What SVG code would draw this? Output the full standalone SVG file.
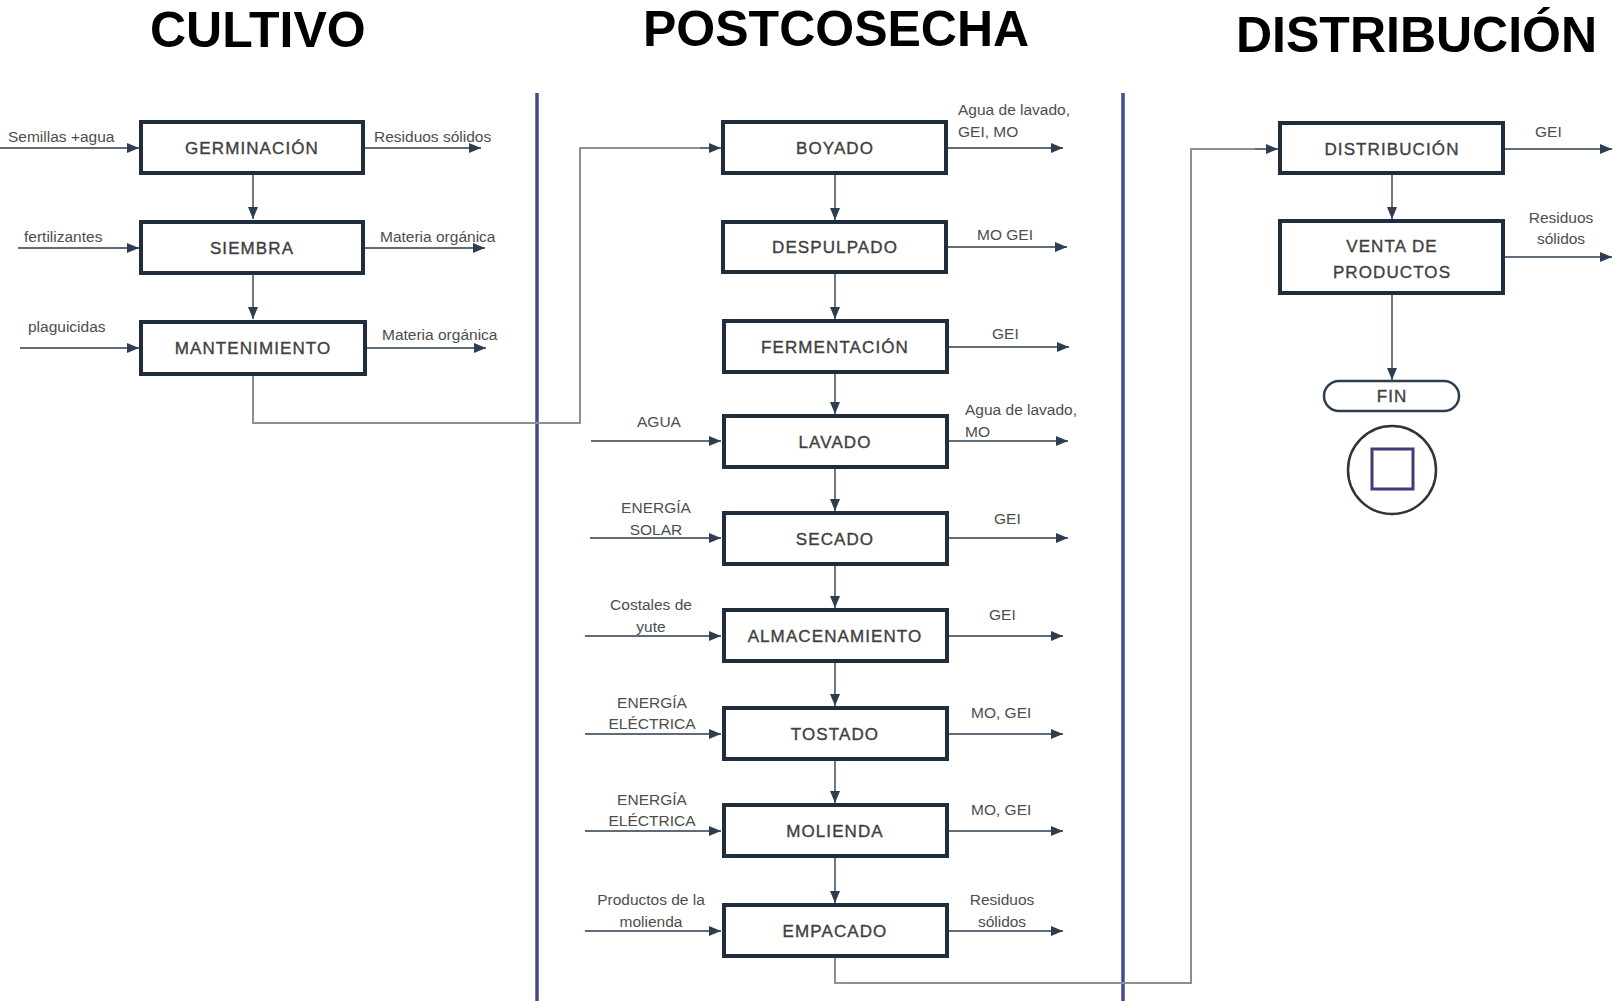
<svg xmlns="http://www.w3.org/2000/svg" width="1618" height="1001" viewBox="0 0 1618 1001">
  <defs>
    <marker id="arrow" viewBox="0 0 12 10" refX="12" refY="5" markerWidth="12" markerHeight="10" markerUnits="userSpaceOnUse" orient="auto">
      <path d="M0,0 L12,5 L0,10 z" fill="#2e3d4f"/>
    </marker>
    <style>
      .title { font-family: "Liberation Sans", Arial, sans-serif; font-weight: bold; font-size: 50px; fill: #000; }
      .box { fill: #fff; stroke: #1f2d3d; stroke-width: 4; }
      .lbl { font-family: "Liberation Sans", Arial, sans-serif; font-size: 17px; fill: #404040; stroke: #404040; stroke-width: 0.35; letter-spacing: 1.1px; text-anchor: middle; }
      .note { font-family: "Liberation Sans", Arial, sans-serif; font-size: 15.5px; fill: #4d4d4d; }
      .mid { text-anchor: middle; }
      .flow { fill: none; stroke: #5f6b78; stroke-width: 1.8; marker-end: url(#arrow); }
      .link { fill: none; stroke: #8a9098; stroke-width: 2; }
      .divider { stroke: #464a8c; stroke-width: 3.5; }
    </style>
  </defs>

  <rect width="1618" height="1001" fill="#fff"/>

  <!-- column titles -->
  <text class="title" x="150" y="47">CULTIVO</text>
  <text class="title" x="643" y="46">POSTCOSECHA</text>
  <text class="title" x="1236" y="52">DISTRIBUCIÓN</text>

  <!-- column dividers -->
  <line class="divider" x1="537" y1="93" x2="537" y2="1001"/>
  <line class="divider" x1="1123" y1="93" x2="1123" y2="1001"/>

  <!-- connectors -->
  <g id="connectors">
    <!-- cultivo inputs / outputs -->
    <path class="flow" d="M0,148 H139"/>
    <path class="flow" d="M18,248 H139"/>
    <path class="flow" d="M20,348 H139"/>
    <path class="flow" d="M365,148 H481"/>
    <path class="flow" d="M365,248 H485"/>
    <path class="flow" d="M367,348 H486"/>
    <path class="flow" d="M253,175 V219"/>
    <path class="flow" d="M253,275 V319"/>
    <!-- cultivo to postcosecha -->
    <path class="link" d="M253,376 V423 H580 V148 H712"/>
    <path class="flow" d="M700,148 H721"/>

    <!-- postcosecha chain -->
    <path class="flow" d="M835,175 V220"/>
    <path class="flow" d="M835,274 V319"/>
    <path class="flow" d="M835,374 V414"/>
    <path class="flow" d="M835,469 V511"/>
    <path class="flow" d="M835,566 V608"/>
    <path class="flow" d="M835,663 V706"/>
    <path class="flow" d="M835,761 V803"/>
    <path class="flow" d="M835,858 V903"/>

    <!-- postcosecha inputs -->
    <path class="flow" d="M591,441 H721"/>
    <path class="flow" d="M590,538 H721"/>
    <path class="flow" d="M585,636 H721"/>
    <path class="flow" d="M585,734 H721"/>
    <path class="flow" d="M585,831 H721"/>
    <path class="flow" d="M585,931 H721"/>

    <!-- postcosecha outputs -->
    <path class="flow" d="M948,148 H1063"/>
    <path class="flow" d="M948,247 H1067"/>
    <path class="flow" d="M948,347 H1069"/>
    <path class="flow" d="M948,441 H1068"/>
    <path class="flow" d="M948,538 H1068"/>
    <path class="flow" d="M948,636 H1063"/>
    <path class="flow" d="M948,734 H1063"/>
    <path class="flow" d="M948,831 H1063"/>
    <path class="flow" d="M948,931 H1063"/>

    <!-- postcosecha to distribución -->
    <path class="link" d="M835,958 V983 H1191 V149 H1265"/>
    <path class="flow" d="M1255,149 H1278"/>

    <!-- distribución chain -->
    <path class="flow" d="M1505,149 H1612"/>
    <path class="flow" d="M1505,257 H1612"/>
    <path class="flow" d="M1392,175 V219"/>
    <path class="flow" d="M1392,295 V380"/>
  </g>

  <!-- flow labels -->
  <g id="flow-labels">
    <text class="note" x="8" y="142">Semillas +agua</text>
    <text class="note" x="374" y="142">Residuos sólidos</text>
    <text class="note" x="24" y="242">fertilizantes</text>
    <text class="note" x="380" y="242">Materia orgánica</text>
    <text class="note" x="28" y="332">plaguicidas</text>
    <text class="note" x="382" y="340">Materia orgánica</text>

    <text class="note" x="958" y="115">Agua de lavado,</text>
    <text class="note" x="958" y="137">GEI, MO</text>
    <text class="note" x="977" y="240">MO GEI</text>
    <text class="note" x="992" y="339">GEI</text>
    <text class="note mid" x="659" y="427">AGUA</text>
    <text class="note" x="965" y="415">Agua de lavado,</text>
    <text class="note" x="965" y="437">MO</text>
    <text class="note mid" x="656" y="513">ENERGÍA</text>
    <text class="note mid" x="656" y="535">SOLAR</text>
    <text class="note" x="994" y="524">GEI</text>
    <text class="note mid" x="651" y="610">Costales de</text>
    <text class="note mid" x="651" y="632">yute</text>
    <text class="note" x="989" y="620">GEI</text>
    <text class="note mid" x="652" y="708">ENERGÍA</text>
    <text class="note mid" x="652" y="729">ELÉCTRICA</text>
    <text class="note" x="971" y="718">MO, GEI</text>
    <text class="note mid" x="652" y="805">ENERGÍA</text>
    <text class="note mid" x="652" y="826">ELÉCTRICA</text>
    <text class="note" x="971" y="815">MO, GEI</text>
    <text class="note mid" x="651" y="905">Productos de la</text>
    <text class="note mid" x="651" y="927">molienda</text>
    <text class="note mid" x="1002" y="905">Residuos</text>
    <text class="note mid" x="1002" y="927">sólidos</text>

    <text class="note" x="1535" y="137">GEI</text>
    <text class="note mid" x="1561" y="223">Residuos</text>
    <text class="note mid" x="1561" y="244">sólidos</text>
  </g>

  <!-- cultivo -->
  <g id="germinacion">
    <rect class="box" x="141" y="122" width="222" height="51"/>
    <text class="lbl" x="252" y="154">GERMINACIÓN</text>
  </g>
  <g id="siembra">
    <rect class="box" x="141" y="222" width="222" height="51"/>
    <text class="lbl" x="252" y="254">SIEMBRA</text>
  </g>
  <g id="mantenimiento">
    <rect class="box" x="141" y="322" width="224" height="52"/>
    <text class="lbl" x="253" y="354">MANTENIMIENTO</text>
  </g>

  <!-- postcosecha -->
  <g id="boyado">
    <rect class="box" x="723" y="122" width="223" height="51"/>
    <text class="lbl" x="835" y="154">BOYADO</text>
  </g>
  <g id="despulpado">
    <rect class="box" x="723" y="222" width="223" height="50"/>
    <text class="lbl" x="835" y="253">DESPULPADO</text>
  </g>
  <g id="fermentacion">
    <rect class="box" x="724" y="321" width="223" height="51"/>
    <text class="lbl" x="835" y="353">FERMENTACIÓN</text>
  </g>
  <g id="lavado">
    <rect class="box" x="724" y="416" width="223" height="51"/>
    <text class="lbl" x="835" y="448">LAVADO</text>
  </g>
  <g id="secado">
    <rect class="box" x="724" y="513" width="223" height="51"/>
    <text class="lbl" x="835" y="545">SECADO</text>
  </g>
  <g id="almacenamiento">
    <rect class="box" x="724" y="610" width="223" height="51"/>
    <text class="lbl" x="835" y="642">ALMACENAMIENTO</text>
  </g>
  <g id="tostado">
    <rect class="box" x="724" y="708" width="223" height="51"/>
    <text class="lbl" x="835" y="740">TOSTADO</text>
  </g>
  <g id="molienda">
    <rect class="box" x="724" y="805" width="223" height="51"/>
    <text class="lbl" x="835" y="837">MOLIENDA</text>
  </g>
  <g id="empacado">
    <rect class="box" x="724" y="905" width="223" height="51"/>
    <text class="lbl" x="835" y="937">EMPACADO</text>
  </g>

  <!-- distribución -->
  <g id="distribucion">
    <rect class="box" x="1280" y="123" width="223" height="50"/>
    <text class="lbl" x="1392" y="155">DISTRIBUCIÓN</text>
  </g>
  <g id="venta">
    <rect class="box" x="1280" y="221" width="223" height="72"/>
    <text class="lbl" x="1392" y="252">VENTA DE</text>
    <text class="lbl" x="1392" y="278">PRODUCTOS</text>
  </g>
  <g id="fin">
    <rect x="1324" y="381" width="135" height="30" rx="15" fill="#fff" stroke="#2e3d4f" stroke-width="2.5"/>
    <text class="lbl" x="1392" y="402">FIN</text>
  </g>
  <g id="stop">
    <circle cx="1392" cy="470" r="44" fill="#fff" stroke="#2e3440" stroke-width="2.5"/>
    <rect x="1372" y="449" width="41" height="40" fill="#fff" stroke="#3d3d78" stroke-width="3"/>
  </g>
</svg>
